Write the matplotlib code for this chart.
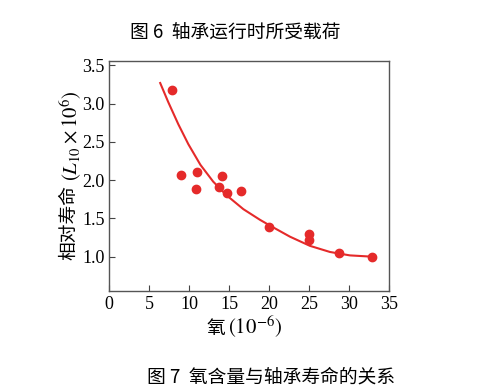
import matplotlib
matplotlib.use("Agg")
import matplotlib.pyplot as plt

# scatter points
oxygen = [7.83, 8.92, 10.92, 10.79, 13.75, 14.08, 14.67, 16.46, 20.04, 25.04, 25.04, 28.75, 32.88]
life = [3.18, 2.07, 2.10, 1.89, 1.91, 2.05, 1.83, 1.86, 1.38, 1.30, 1.21, 1.04, 1.00]

# trend curve, sampled along the drawn line
curve_x = [6.37, 7.38, 8.64, 9.89, 11.4, 13.0, 14.69, 16.77, 18.86, 20.1, 22.6, 25.1, 27.6, 30.1, 32.6]
curve_y = [3.27, 3.02, 2.73, 2.47, 2.20, 1.98, 1.80, 1.62, 1.48, 1.405, 1.26, 1.14, 1.06, 1.015, 1.0]

xticks = [0, 5, 10, 15, 20, 25, 30, 35]
yticks = [1.0, 1.5, 2.0, 2.5, 3.0, 3.5]

plt.rcParams['font.family'] = ['Liberation Serif', 'Noto Sans CJK SC']
plt.rcParams['mathtext.fontset'] = 'stix'
cjk = ['Noto Sans CJK SC', 'DejaVu Sans']
red = '#e52a2a'
W, H = 490, 390

fig = plt.figure(figsize=(4.9, 3.9), dpi=100)
ax = fig.add_axes([0.223, 0.254, 0.571, 0.59])

ax.plot(curve_x, curve_y, color=red, lw=1.5, zorder=2)
ax.plot(oxygen, life, 'o', color=red, ms=6, mec=red, zorder=3)

ax.set_xlim(0, 35)
ax.set_ylim(0.55, 3.56)
ax.set_xticks(xticks)
ax.set_yticks(yticks)
ax.set_yticklabels([f"{v:.1f}" for v in yticks])
ax.tick_params(direction='in', length=4, width=0.8, color='#444444',
               labelsize=13, top=False, right=False)
for s in ax.spines.values():
    s.set_color('#555555')
    s.set_linewidth(1.0)

# axis labels: Chinese part and math part drawn as separate texts
xl_cn = fig.text(225 / W, 1 - 334 / H, '氧', family=cjk, fontsize=13.5,
                 ha='right', va='baseline')
xl_m = fig.text(228 / W, 1 - 334 / H, r'$(10^{-6})$', fontsize=15,
                ha='left', va='baseline')

yl_cn = fig.text(69 / W, 1 - 260 / H, '相对寿命', family=cjk, fontsize=13.5,
                 rotation=90, ha='center', va='bottom')
fig.canvas.draw()
bb = yl_cn.get_window_extent(fig.canvas.get_renderer())
yl_m = fig.text(71 / W, (bb.y1 + 4) / H, r'$(L_{10}\times10^{6})$', fontsize=15,
                rotation=90, ha='center', va='bottom')

fig.text(0.48, 1 - 32 / H, '图 6  轴承运行时所受载荷', family=cjk, fontsize=13.5,
         ha='center', va='center')
fig.text(0.553, 1 - 377 / H, '图 7  氧含量与轴承寿命的关系', family=cjk, fontsize=13.5,
         ha='center', va='center')

fig.savefig('out.png', dpi=100)
